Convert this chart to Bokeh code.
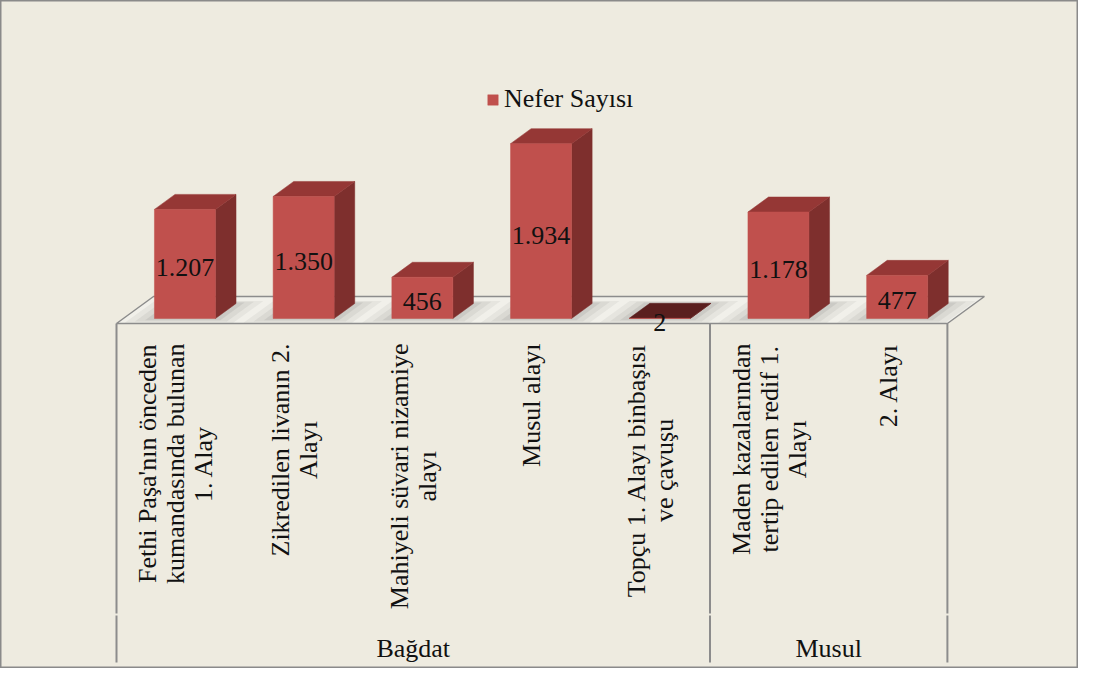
import numpy as np
from bokeh.plotting import figure
from bokeh.models import Range1d, ColumnDataSource, Legend, LegendItem
from bokeh.core.properties import value
from bokeh.embed import file_html
from bokeh.resources import INLINE

# ---------------- data ----------------
groups = ["Bağdat", "Musul"]
group_sizes = [5, 2]
categories = [
    "Fethi Paşa'nın önceden\nkumandasında bulunan\n1. Alay",
    "Zikredilen livanın 2.\nAlayı",
    "Mahiyeli süvari nizamiye\nalayı",
    "Musul alayı",
    "Topçu 1. Alayı binbaşısı\nve çavuşu",
    "Maden kazalarından\ntertip edilen redif 1.\nAlayı",
    "2. Alayı",
]
values = [1207, 1350, 456, 1934, 2, 1178, 477]
series_name = "Nefer Sayısı"

# ---------------- style / layout ----------------
FONT = "Liberation Serif"
BG = "#EEEBE0"
FRONT = "#C0504D"
SIDE = "#7E2F2D"
TOP = "#953735"
TOP_FLAT = "#5A1F1E"
EDGE = "#8C8C8C"

W, H = 1078, 668
PX_CAT = 118.7      # pixels per category slot
PX_VAL = 0.0904     # pixels per unit of value
FLOOR_LEFT_PX = 116   # canvas px of floor front-left corner
FLOOR_FRONT_PX = 323  # canvas px (from top) of floor front edge

x_start = -FLOOR_LEFT_PX / PX_CAT
x_end = x_start + W / PX_CAT
y_end = FLOOR_FRONT_PX / PX_VAL
y_start = y_end - H / PX_VAL

DX = 37 / PX_CAT    # oblique depth offset (x) for full floor depth
DY = 27 / PX_VAL    # oblique depth offset (y) for full floor depth


def yd(px):
    """pixel row -> data y"""
    return (FLOOR_FRONT_PX - px) / PX_VAL


def proj(x, h, d):
    return x + d * DX, h + d * DY


p = figure(width=W, height=H, x_range=Range1d(x_start, x_end), y_range=Range1d(y_start, y_end),
           output_backend="svg", toolbar_location=None, min_border=0)
p.axis.visible = False
p.grid.visible = False
p.background_fill_color = BG
p.border_fill_color = BG
p.outline_line_color = "#8A8A8A"
p.outline_line_width = 2

n = len(values)

# floor
fx, fy = [], []
for (x, d) in [(0, 0), (n, 0), (n, 1), (0, 1)]:
    a, b = proj(x, 0, d)
    fx.append(a); fy.append(b)
p.patch(fx, fy, fill_color="#F1F0EA", line_color=EDGE, line_width=1.5)

# bar geometry
A, BW = 0.262, 0.514
D0, D1 = 0.185, 0.741

# shadows
for e, ed, al in [(0.20, 0.16, 0.07), (0.13, 0.11, 0.08), (0.06, 0.06, 0.10)]:
    sxs, sys = [], []
    for i in range(n):
        x0, x1 = i + A - e, i + A + BW + e
        d0, d1 = max(D0 - ed, 0.02), min(D1 + ed * 0.6, 0.98)
        pts = [proj(x0, 0, d0), proj(x1, 0, d0), proj(x1, 0, d1), proj(x0, 0, d1)]
        sxs.append([q[0] for q in pts]); sys.append([q[1] for q in pts])
    p.patches(sxs, sys, fill_color="#505050", fill_alpha=al, line_color=None)

front_x, front_y, side_x, side_y, top_x, top_y, top_c = [], [], [], [], [], [], []
for i, v in enumerate(values):
    x0, x1 = i + A, i + A + BW
    fr = [proj(x0, 0, D0), proj(x1, 0, D0), proj(x1, v, D0), proj(x0, v, D0)]
    sd = [proj(x1, 0, D0), proj(x1, 0, D1), proj(x1, v, D1), proj(x1, v, D0)]
    tp = [proj(x0, v, D0), proj(x1, v, D0), proj(x1, v, D1), proj(x0, v, D1)]
    front_x.append([q[0] for q in fr]); front_y.append([q[1] for q in fr])
    side_x.append([q[0] for q in sd]); side_y.append([q[1] for q in sd])
    top_x.append([q[0] for q in tp]); top_y.append([q[1] for q in tp])
    top_c.append(TOP_FLAT if v < 20 else TOP)

p.patches(side_x, side_y, fill_color=SIDE, line_color=SIDE, line_width=0.5)
p.patches("xs", "ys", source=ColumnDataSource(dict(xs=top_x, ys=top_y, c=top_c)),
          fill_color="c", line_color="c", line_width=0.5)
front_r = p.patches(front_x, front_y, fill_color=FRONT, line_color=FRONT, line_width=0.5)

# value labels
lx = [proj(i + A + BW / 2, 0, D0)[0] for i in range(n)]
ly = [proj(0, v / 2, D0)[1] for v in values]
labels = [f"{v:,}".replace(",", ".") for v in values]
p.text(lx, ly, text=labels, text_align="center", text_baseline="middle",
       text_font=value(FONT), text_font_size="26px", text_color="#111111", y_offset=4)

# category labels (rotated)
cx = [i + 0.5 for i in range(n)]
cy = [yd(343)] * n
p.text(cx, cy, text=categories, angle=np.pi / 2, anchor=value("center_right"),
       text_align="center", text_font=value(FONT), text_font_size="26px",
       text_color="#111111", text_line_height=0.97)

# group separators and labels
bounds = np.concatenate([[0], np.cumsum(group_sizes)])
for b in bounds:
    p.segment(x0=b, y0=0, x1=b, y1=yd(613), line_color=EDGE, line_width=2)
    p.segment(x0=b, y0=yd(615), x1=b, y1=yd(662), line_color=EDGE, line_width=2)
gx = [(bounds[k] + bounds[k + 1]) / 2 for k in range(len(groups))]
p.text(gx, [yd(648)] * len(groups), text=groups, text_align="center", text_baseline="middle",
       text_font=value(FONT), text_font_size="26px", text_color="#111111")

# legend
legend = Legend(items=[LegendItem(label=series_name, renderers=[front_r])],
                location=(486, 554), glyph_width=13, glyph_height=13, label_standoff=5,
                padding=0, margin=0, background_fill_alpha=0, border_line_alpha=0,
                label_text_font=FONT, label_text_font_size="26px", label_text_color="#111111")
p.add_layout(legend)

open("out.html", "w").write(file_html(p, INLINE))
